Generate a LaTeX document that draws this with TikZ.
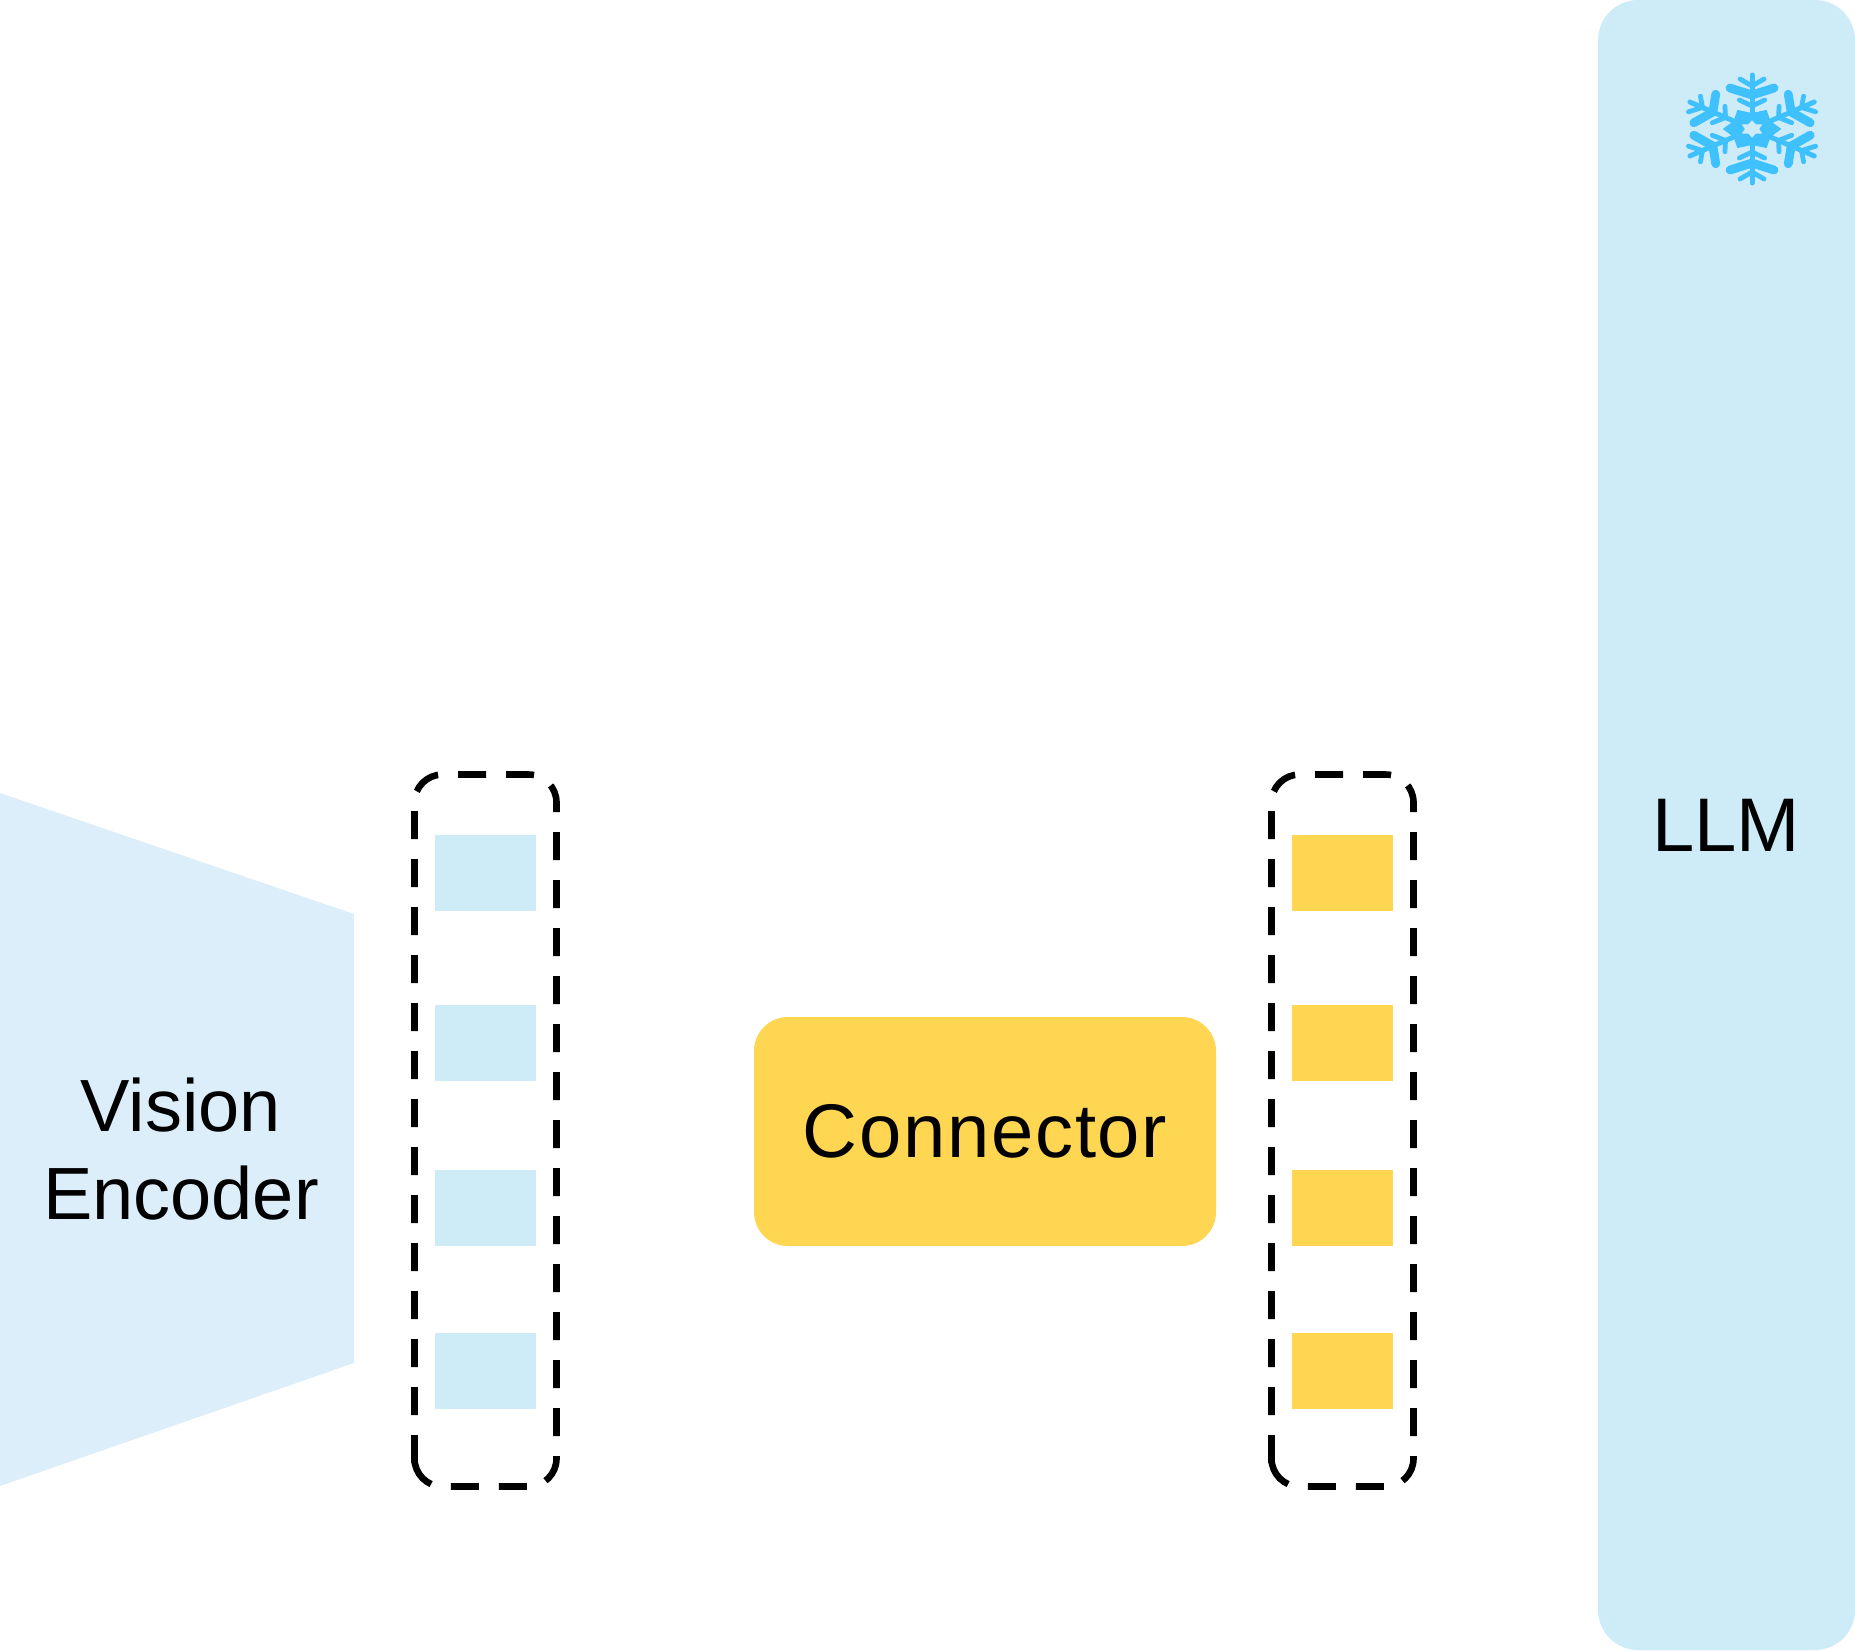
\documentclass[tikz,border=0pt]{standalone}
\usepackage{fontspec}
\setmainfont{Liberation Sans}
\definecolor{paleblue}{HTML}{CEEBF8}
\definecolor{encblue}{HTML}{DCEEF9}
\definecolor{connyellow}{HTML}{FFD651}
\definecolor{iceblue}{HTML}{3FC1FE}
\begin{document}
\begin{tikzpicture}[
    x=0.5pt, y=-0.5pt,
    mylabel/.style={font=\fontsize{38}{44}\selectfont, align=center, text=black, inner sep=0pt},
    mytoken/.style={rectangle, minimum width=50.5pt, minimum height=38pt, inner sep=0pt},
    mygroup/.style={draw=black, line width=3.3pt, dash pattern=on 14pt off 10pt, rounded corners=14pt},
    myflake/.style={draw=iceblue, line cap=round},
]
\useasboundingbox (0,0) rectangle (1855,1650);

% left side
\fill[encblue] (0,793) -- (354,914) -- (354,1363) -- (0,1486) -- cycle;
\node[mylabel, font=\fontsize{37}{44}\selectfont] (vision) at (181,1149) {Vision\\Encoder};

\node[mytoken, fill=paleblue] (a1) at (485.5,873) {};
\node[mytoken, fill=paleblue] (a2) at (485.5,1043) {};
\node[mytoken, fill=paleblue] (a3) at (485.5,1208) {};
\node[mytoken, fill=paleblue] (a4) at (485.5,1371) {};
\draw[mygroup] (414.5,1463) -- (414.5,774.5) -- (556.5,774.5) -- (556.5,1486.5) -- (414.5,1486.5) -- (414.5,1463);

% connector
\node[rectangle, fill=connyellow, rounded corners=17pt, minimum width=231pt, minimum height=114.5pt, inner sep=0pt] (conn) at (985,1131.5) {};
\node[mylabel, font=\fontsize{38}{44}\selectfont\addfontfeatures{LetterSpace=2.3}] (connlabel) at (985,1131) {Connector};

\node[mytoken, fill=connyellow] (b1) at (1342.5,873) {};
\node[mytoken, fill=connyellow] (b2) at (1342.5,1043) {};
\node[mytoken, fill=connyellow] (b3) at (1342.5,1208) {};
\node[mytoken, fill=connyellow] (b4) at (1342.5,1371) {};
\draw[mygroup] (1271.5,1463) -- (1271.5,774.5) -- (1413.5,774.5) -- (1413.5,1486.5) -- (1271.5,1486.5) -- (1271.5,1463);

% llm with snowflake
\node[rectangle, fill=paleblue, rounded corners=20pt, minimum width=128.5pt, minimum height=825pt, inner sep=0pt] (llm) at (1726.5,825) {};
\node[mylabel] (llmlabel) at (1726,825) {LLM};

\begin{scope}[shift={(1752,129)}, xscale=1.33]
\foreach \a in {0,60,...,300} {
  \begin{scope}[rotate=\a]
    \draw[myflake, line width=2.5pt] (0,-12) -- (0,-54);
    \draw[myflake, line width=4.4pt] (-16.5,-41) -- (0,-34) -- (16.5,-41);
    \draw[myflake, line width=2.4pt] (-9,-50) -- (0,-43) -- (9,-50);
    \draw[myflake, line width=2.4pt] (-9.5,-29) -- (0,-23) -- (9.5,-29);
  \end{scope}
}
\fill[iceblue, even odd rule]
  (0:22) -- (30:16) -- (60:22) -- (90:16) -- (120:22) -- (150:16) -- (180:22) -- (210:16) -- (240:22) -- (270:16) -- (300:22) -- (330:16) -- cycle
  (30:9) -- (60:5.5) -- (90:9) -- (120:5.5) -- (150:9) -- (180:5.5) -- (210:9) -- (240:5.5) -- (270:9) -- (300:5.5) -- (330:9) -- (0:5.5) -- cycle;
\end{scope}
\end{tikzpicture}
\end{document}
